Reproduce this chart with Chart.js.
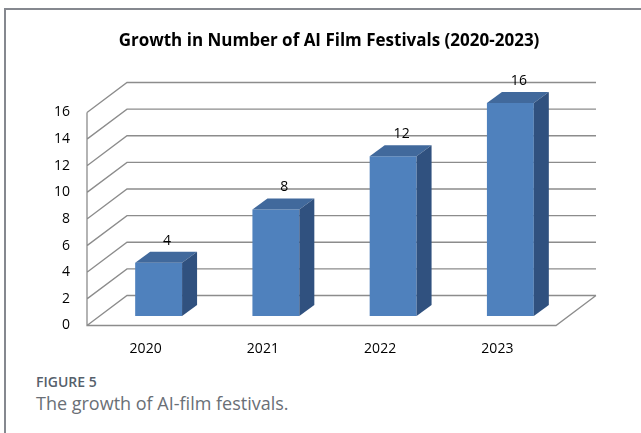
<!DOCTYPE html>
<html>
<head>
<meta charset="utf-8">
<script src="https://cdn.jsdelivr.net/npm/chart.js@4/dist/chart.umd.min.js"></script>
<style>
  html, body { margin: 0; padding: 0; background: #fff; }
  body { width: 641px; height: 433px; position: relative; overflow: hidden; font-family: "Open Sans", sans-serif; }
  .frame { position: absolute; left: 4px; top: 8px; width: 700px; height: 500px;
           border-top: 2px solid #85888f; border-left: 2px solid #85888f; }
  #chart { position: absolute; left: 0; top: 0; }
  .fig-label { position: absolute; left: 36px; top: 375px; font-size: 14px; line-height: 14px;
               font-weight: 600; color: #56606b; }
  .fig-caption { position: absolute; left: 36px; top: 394px; font-size: 18px; line-height: 18px;
                 color: #6a6f76; }
</style>
</head>
<body>
<div class="frame"></div>
<canvas id="chart" width="641" height="360"></canvas>
<div class="fig-label">FIGURE 5</div>
<div class="fig-caption">The growth of AI-film festivals.</div>
<script>
const years = ["2020", "2021", "2022", "2023"];
const festivals = [4, 8, 12, 16];
const yTicks = [0, 2, 4, 6, 8, 10, 12, 14, 16];

// fake 3D: offsets from the bar plane to the front edge, back wall and bar back face
const FRONT = { x: -13, y: 9.5 };
const BACK = { x: 27, y: -20.5 };
const BAR_DEPTH = { x: 15, y: -11 };

const gridColor = "#8c8c8c";
const barFront = "#4f81bd";
const barTop = "#41699c";
const barSide = "#30517f";

Chart.defaults.font.family = "'Open Sans', sans-serif";
Chart.defaults.color = "#000";

// walls + floor, drawn before the bars so bars cover the back lines
const walls = {
  id: "walls",
  beforeDatasetsDraw(chart) {
    const { ctx, chartArea: { left, right }, scales: { y } } = chart;
    ctx.save();
    ctx.strokeStyle = gridColor;
    ctx.lineWidth = 1.3;
    ctx.beginPath();
    yTicks.forEach((v) => {
      const py = y.getPixelForValue(v);
      ctx.moveTo(left + FRONT.x, py + FRONT.y);
      ctx.lineTo(left + BACK.x, py + BACK.y);
      ctx.lineTo(right + BACK.x, py + BACK.y);
    });
    const y0 = y.getPixelForValue(yTicks[0]);
    const yTop = y.getPixelForValue(yTicks[yTicks.length - 1]);
    ctx.moveTo(left + FRONT.x, yTop + FRONT.y);
    ctx.lineTo(left + FRONT.x, y0 + FRONT.y);
    ctx.lineTo(right + FRONT.x, y0 + FRONT.y);
    ctx.lineTo(right + BACK.x, y0 + BACK.y);
    ctx.stroke();
    ctx.restore();
  },
};

// top + side faces of each bar and the value above it
const barFaces = {
  id: "barFaces",
  afterDatasetsDraw(chart) {
    const { ctx } = chart;
    const meta = chart.getDatasetMeta(0);
    ctx.save();
    meta.data.forEach((bar, i) => {
      const { x, y, base, width } = bar.getProps(["x", "y", "base", "width"], true);
      const l = x - width / 2;
      const r = x + width / 2;
      ctx.fillStyle = barTop;
      ctx.beginPath();
      ctx.moveTo(l, y);
      ctx.lineTo(l + BAR_DEPTH.x, y + BAR_DEPTH.y);
      ctx.lineTo(r + BAR_DEPTH.x, y + BAR_DEPTH.y);
      ctx.lineTo(r, y);
      ctx.closePath();
      ctx.fill();

      ctx.fillStyle = barSide;
      ctx.beginPath();
      ctx.moveTo(r, y);
      ctx.lineTo(r + BAR_DEPTH.x, y + BAR_DEPTH.y);
      ctx.lineTo(r + BAR_DEPTH.x, base + BAR_DEPTH.y);
      ctx.lineTo(r, base);
      ctx.closePath();
      ctx.fill();

      ctx.fillStyle = "#000";
      ctx.font = "14px 'Open Sans', sans-serif";
      ctx.textAlign = "center";
      ctx.textBaseline = "middle";
      ctx.fillText(String(festivals[i]), x + BAR_DEPTH.x / 2 + 1, y + BAR_DEPTH.y - 11);
    });
    ctx.restore();
  },
};

new Chart(document.getElementById("chart"), {
  type: "bar",
  data: {
    labels: years,
    datasets: [
      {
        data: festivals,
        backgroundColor: barFront,
        borderWidth: 0,
        barPercentage: 0.4,
        categoryPercentage: 1,
      },
    ],
  },
  options: {
    responsive: false,
    animation: false,
    layout: { padding: { left: 17, right: 0, top: 0, bottom: 0 } },
    plugins: {
      legend: { display: false },
      tooltip: { enabled: false },
      title: {
        display: true,
        text: "Growth in Number of AI Film Festivals (2020-2023)",
        color: "#000",
        font: { size: 17, weight: "bold" },
        padding: { top: 31, bottom: 51.6 },
      },
    },
    scales: {
      x: {
        grid: { display: false, drawTicks: false },
        border: { display: false },
        ticks: { font: { size: 14 }, padding: 25, labelOffset: FRONT.x },
        afterFit(s) { s.height = 44; },
      },
      y: {
        min: 0,
        max: 16,
        grid: { display: false, drawTicks: false },
        border: { display: false },
        ticks: { stepSize: 2, font: { size: 14 }, padding: 30, labelOffset: FRONT.y },
        afterFit(s) { s.width = 83; },
      },
      // empty axis on the right, only reserves room for the wall depth
      side: {
        type: "linear",
        position: "right",
        display: true,
        grid: { display: false, drawTicks: false },
        border: { display: false },
        ticks: { display: false },
        afterFit(s) { s.width = 72; },
      },
    },
  },
  plugins: [walls, barFaces],
});
</script>
</body>
</html>
